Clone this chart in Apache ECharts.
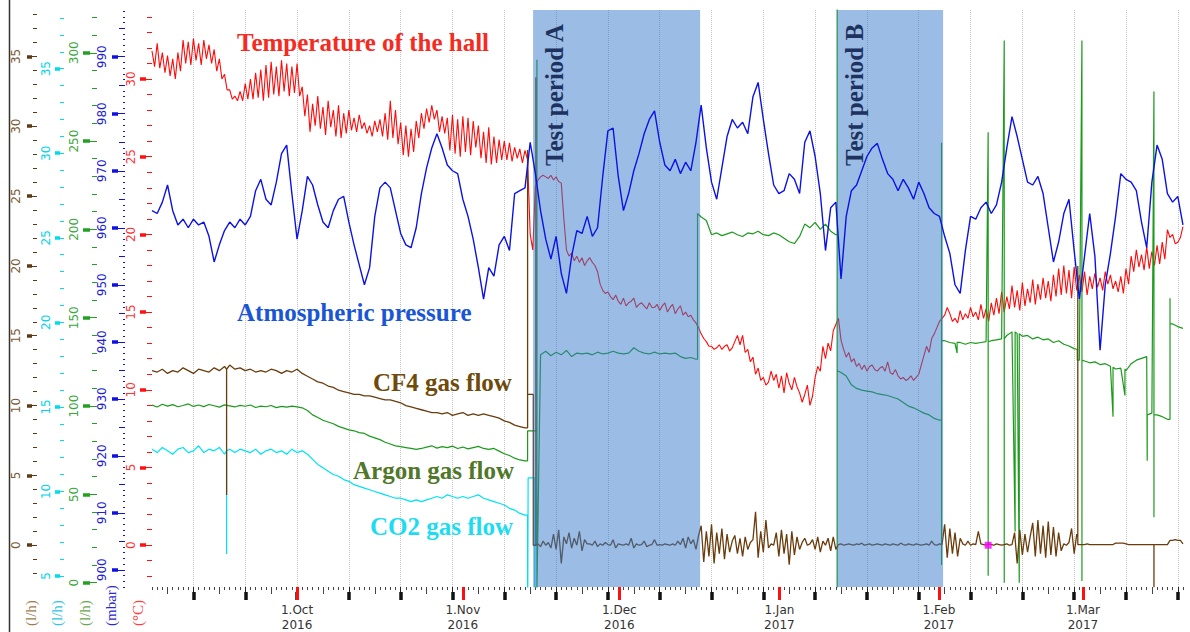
<!DOCTYPE html>
<html>
<head>
<meta charset="utf-8">
<title>Hall conditions and gas flows</title>
<script src="https://cdn.jsdelivr.net/npm/echarts@6/dist/echarts.min.js"></script>
<style>
html, body { margin: 0; padding: 0; background: #fff; }
#chart { width: 1190px; height: 632px; }
</style>
</head>
<body>
<div id="chart"></div>
<script>
// x values are days counted from 1 Oct 2016
var dayMin = -28, dayMax = 171.2;
var monthTicks = [0, 32, 62.2, 93.1, 123.9, 151.7];
var monthLabels = ['1.Oct\n2016', '1.Nov\n2016', '1.Dec\n2016', '1.Jan\n2017', '1.Feb\n2017', '1.Mar\n2017'];
var testPeriods = [[45.56, 77.8], [104.25, 124.7]];
var testNames = ['Test period A', 'Test period B'];
var seriesTitles = ['Temperature of the hall', 'Atmospheric pressure', 'CF4 gas flow', 'Argon gas flow', 'CO2 gas flow'];
var unitNames = ['(l/h)', '(l/h)', '(l/h)', '(mbar)', '(°C)'];

// temperature of the hall (°C), every half day from day -28
var tempStart = -28, tempStep = 0.5;
var tempValues = [
  31.8, 30.8, 32.3, 30.7, 31.7, 30.4, 31.5, 30.2, 31.3, 30.0,
  31.7, 30.5, 32.5, 31.0, 32.4, 30.9, 32.6, 31.2, 32.3, 30.9,
  32.5, 31.3, 32.2, 31.0, 31.9, 30.5, 31.3, 30.0, 30.3, 29.3,
  29.3, 28.7, 28.9, 28.6, 29.2, 28.6, 29.7, 28.7, 30.0, 28.7,
  30.4, 28.8, 30.6, 28.6, 30.9, 28.8, 31.1, 29.0, 30.8, 28.9,
  31.2, 29.2, 31.0, 28.9, 30.8, 29.1, 31.0, 28.9, 29.5, 27.6,
  29.0, 26.6, 28.4, 27.0, 28.9, 26.8, 28.2, 26.4, 28.6, 26.9,
  28.0, 26.3, 28.3, 26.2, 27.8, 26.5, 28.0, 26.7, 27.5, 26.6,
  27.7, 26.8, 27.2, 26.5, 27.0, 26.3, 27.3, 26.6, 27.4, 26.3,
  27.8, 26.1, 28.6, 26.2, 28.0, 25.8, 27.2, 25.1, 27.0, 25.0,
  26.8, 25.3, 27.3, 26.2, 27.8, 26.8, 28.1, 27.2, 28.3, 27.4,
  28.0, 26.6, 27.6, 26.5, 27.5, 25.4, 27.7, 25.2, 27.4, 25.0,
  27.6, 25.3, 27.5, 25.1, 27.3, 25.6, 27.0, 24.9, 26.6, 24.6,
  26.9, 24.5, 26.3, 24.6, 26.1, 24.8, 26.0, 24.8, 25.9, 24.7,
  25.6, 24.9, 25.5, 24.6, 25.4, 24.8, 20.0, 19.0, 23.1, 23.5,
  23.7, 23.8, 23.7, 23.6, 23.8, 23.5, 23.7, 23.4, 23.3, 21.0,
  19.0, 18.6, 18.8, 18.3, 18.6, 18.2, 18.5, 18.0, 18.3, 18.5,
  18.2, 18.0, 17.6, 16.8, 16.4, 16.2, 16.3, 16.0, 15.8, 16.1,
  15.7, 15.5, 15.9, 15.4, 15.6, 15.7, 15.9, 15.3, 15.5, 15.6,
  15.4, 15.2, 15.6, 15.3, 15.3, 15.5, 15.1, 15.4, 15.6, 15.0,
  15.3, 15.5, 14.9, 15.2, 15.4, 14.8, 15.0, 14.7, 14.8, 14.5,
  14.3, 14.0, 13.6, 13.3, 13.1, 12.8, 12.8, 12.6, 12.7, 12.9,
  12.6, 12.8, 12.9, 12.5, 12.7, 13.1, 13.5, 12.9, 13.5, 12.4,
  12.6, 11.8, 12.1, 11.0, 11.4, 10.6, 10.8, 10.3, 10.5, 11.2,
  10.6, 11.0, 10.1, 10.9, 9.8, 11.1, 10.4, 10.0, 10.8, 10.2,
  9.8, 9.2, 9.7, 10.3, 9.0, 9.6, 10.8, 11.5, 11.2, 12.8,
  12.0, 13.0, 12.5, 13.8, 14.2, 14.6, 13.2, 12.6, 12.1, 12.4,
  11.8, 12.0, 11.5, 11.7, 11.3, 11.6, 11.2, 11.5, 11.6, 11.3,
  11.2, 11.4, 11.5, 11.2, 11.8, 11.1, 11.0, 11.3, 10.9, 10.7,
  10.8, 10.6, 10.7, 10.9, 10.6, 10.8, 11.0, 11.6, 12.2, 12.8,
  12.4, 13.3, 13.6, 14.0, 14.4, 14.6, 14.8, 15.3, 14.9, 14.4,
  14.6, 14.3, 15.1, 14.5, 14.9, 14.6, 15.3, 14.7, 15.0, 14.5,
  15.5, 14.6, 15.2, 14.4, 15.6, 14.8, 15.9, 14.9, 16.3, 15.0,
  16.0, 15.2, 16.7, 15.3, 16.4, 15.1, 16.9, 15.4, 16.5, 15.6,
  17.1, 15.5, 16.8, 15.8, 17.2, 15.9, 17.0, 15.7, 17.4, 16.0,
  17.8, 16.1, 18.0, 16.2, 17.7, 15.9, 17.9, 16.4, 17.4, 16.3,
  17.6, 16.1, 17.3, 16.5, 17.5, 16.6, 17.2, 16.4, 17.6, 16.8,
  17.4, 16.5, 17.0, 16.3, 17.3, 16.2, 17.8, 16.8, 18.6, 17.6,
  19.0, 17.9, 18.7, 17.7, 19.2, 17.8, 18.9, 18.0, 19.3, 18.1,
  19.5, 18.4, 20.3, 19.8, 20.0, 19.4, 19.5, 19.8,
  20.5
];

// atmospheric pressure (mbar), daily from day -28
var pressStart = -28, pressStep = 1;
var pressValues = [
  963.0, 962.5, 964.5, 967.5, 963.0, 960.5, 961.5, 960.0, 961.5, 960.5,
  961.0, 958.5, 954.0, 957.0, 959.5, 961.0, 960.0, 961.5, 960.5, 962.0,
  966.5, 968.5, 965.0, 964.0, 968.0, 973.0, 974.5, 966.0, 958.0, 963.0,
  969.0, 967.5, 964.0, 961.0, 960.0, 963.0, 965.0, 965.5, 961.0, 957.0,
  953.5, 950.0, 953.0, 962.0, 967.0, 968.0, 967.0, 963.0, 959.0, 957.0,
  956.5, 960.0, 966.0, 970.5, 974.0, 976.5, 974.0, 971.0, 970.0, 969.5,
  965.0, 962.0, 958.0, 953.0, 947.5, 953.0, 951.5, 957.0, 958.5, 956.0,
  966.0, 966.5, 967.0, 975.0, 969.5, 963.0, 958.0, 954.5, 958.5, 952.0,
  948.5, 955.0, 959.5, 959.0, 962.0, 958.5, 960.0, 969.0, 977.0, 977.5,
  969.0, 963.0, 966.0, 970.0, 973.0, 976.5, 979.0, 980.5, 975.0, 971.0,
  970.0, 972.0, 969.5, 971.5, 970.0, 975.0, 981.5, 974.0, 968.0, 965.0,
  970.5, 976.0, 979.0, 977.5, 978.5, 976.5, 983.0, 985.5, 979.0, 973.0,
  967.5, 966.0, 966.5, 969.5, 968.5, 966.0, 975.0, 977.0, 972.5, 966.0,
  956.0, 963.5, 964.5, 951.0, 962.0, 966.5, 967.5, 970.0, 972.5, 974.0,
  974.8, 972.0, 969.5, 968.5, 966.5, 968.5, 967.0, 965.0, 968.0, 966.0,
  963.5, 962.5, 962.0, 958.5, 955.5, 950.0, 948.5, 956.0, 962.0, 961.5,
  963.5, 964.5, 962.5, 964.0, 968.0, 974.0, 979.5, 976.0, 972.0, 968.0,
  967.5, 969.0, 966.0, 960.0, 954.0, 957.5, 962.5, 965.0, 956.0, 947.5,
  955.0, 962.5, 955.0, 938.5, 950.0, 955.5, 962.0, 969.5, 968.5, 968.0,
  966.5, 961.0, 956.5, 968.0, 974.5, 972.0, 966.0, 964.5, 965.5, 960.5
];

// argon flow (l/h): daily before test A and daily after it
var argonEarly = [
  100.5, 99.5, 101.0, 100.0, 100.8, 99.6, 100.3, 101.2, 99.8, 100.6,
  99.7, 100.9, 100.2, 99.4, 100.7, 100.1, 99.5, 100.4, 99.9, 100.6,
  99.2, 100.0, 99.6, 100.3, 99.1, 99.8, 99.4, 100.0, 99.5, 99.0,
  97.5, 95.0, 93.5, 92.0, 91.0, 90.0, 88.5, 87.5, 86.5, 86.0,
  85.0, 84.5, 83.0, 82.0, 81.0, 79.5, 78.5, 77.5, 77.0, 76.5,
  76.0, 75.5, 76.0, 76.8, 77.5, 76.2, 77.0, 76.5, 77.3, 76.0,
  76.8, 75.8, 76.5, 77.2, 76.0, 75.5, 76.0, 74.5, 73.0, 72.0,
  70.5, 69.5, 69.0
];
var argonLate = [
  129.0, 131.0, 128.5, 130.5, 129.0, 131.5, 128.0, 130.0, 129.5, 130.0,
  129.0, 130.5, 129.5, 130.0, 131.0, 130.0, 129.5, 130.0, 133.0, 131.0,
  130.0, 129.5, 130.5, 129.5, 130.0, 129.5, 130.0, 128.0, 127.0, 127.5,
  126.5, 207.0, 205.0, 197.0, 198.0, 196.5, 197.5, 198.5, 197.0, 196.0,
  198.0, 197.5, 199.0, 197.0, 196.5, 198.0, 197.0, 195.0, 193.0, 192.0,
  196.0, 203.0, 201.0, 204.0, 200.0, 203.0, 199.0, 197.0, 119.0, 117.0,
  112.0, 110.0, 109.0, 108.5, 108.0, 107.0, 106.5, 106.0, 105.0, 104.0,
  102.0, 100.0, 99.0, 97.5, 96.0, 95.0, 93.0, 92.0, 137.0, 136.0,
  135.5, 136.0, 135.0, 136.0, 135.5, 136.0, 136.5, 137.0, 137.5, 138.0,
  140.0, 142.0, 141.0, 139.5, 140.0, 138.0, 139.0, 137.5, 138.0, 136.0,
  137.0, 135.0, 134.0, 132.5, 126.0, 125.5, 124.5, 125.0, 123.5, 124.0,
  122.5, 121.0, 121.5, 120.0, 124.0, 126.0, 127.0, 128.0, 96.0, 95.0,
  94.0, 92.5, 146.5, 145.0, 144.0
];
// [day, values...] : vertical jumps and spikes of the argon flow
var argonEvents = [
  [44.5, 69, 86], [46.3, 86, 296, -5], [77.3, 126.5, 209],
  [104.25, 197, 400, -10, 120], [124.4, 92, 249, 10, 137], [127.4, 130, 136],
  [133.4, 255, 4, 136.5], [136.5, 307, 0, 138], [138.6, 29, 142], [139.4, 0, 141],
  [150.6, 132, 126], [151.5, 307, 1, 126], [157.5, 94, 122], [159.8, 106, 121],
  [164.1, 128, 69, 95], [165.4, 278, 37, 95], [168.5, 92.5, 161, 146.5]
];

// CO2 flow (l/h), daily until test A
var co2Early = [
  12.5, 12.3, 12.6, 12.4, 12.2, 12.5, 12.6, 12.3, 12.4, 12.7,
  12.3, 12.5, 12.4, 12.6, 12.2, 12.5, 12.3, 12.5, 12.4, 12.3,
  12.5, 12.2, 12.4, 12.5, 12.3, 12.4, 12.2, 12.5, 12.3, 12.4,
  12.2, 11.9, 11.6, 11.4, 11.2, 11.0, 10.9, 10.7, 10.6, 10.4,
  10.3, 10.2, 10.1, 10.0, 9.9, 9.8, 9.7, 9.6, 9.6, 9.5,
  9.4, 9.5, 9.4, 9.5, 9.6, 9.7, 9.6, 9.8, 9.7, 9.6,
  9.7, 9.6, 9.7, 9.8, 9.6, 9.5, 9.4, 9.3, 9.2, 9.0,
  8.9, 8.7, 8.6
];
var co2Events = [[-13.6, 12.4, 6.3, 12.4], [44.5, 8.6, 0], [44.6, 0, 10.8], [45.9, 10.8, 0]];

// CF4 flow (l/h): daily until test A, then every half day
var cf4Early = [
  12.5, 12.4, 12.6, 12.3, 12.5, 12.4, 12.7, 12.5, 12.3, 12.6,
  12.5, 12.4, 12.7, 12.5, 12.8, 12.9, 12.6, 12.7, 12.5, 12.6,
  12.4, 12.5, 12.4, 12.6, 12.5, 12.3, 12.5, 12.4, 12.6, 12.3,
  12.1, 11.9, 11.7, 11.6, 11.4, 11.3, 11.1, 11.0, 10.9, 10.8,
  10.8, 10.7, 10.7, 10.6, 10.5, 10.4, 10.4, 10.3, 10.2, 10.0,
  9.9, 9.8, 9.7, 9.6, 9.5, 9.5, 9.4, 9.5, 9.3, 9.4,
  9.5, 9.3, 9.4, 9.3, 9.4, 9.3, 9.2, 9.1, 8.9, 8.8,
  8.6, 8.5, 8.4
];
var cf4Late = [
  0.1, -0.1, 0.3, 0.0, 0.2, -0.2,
  0.8, -0.3, 1.1, -1.3, 0.6, 0.1, 0.9, -0.2, 0.5, 0.0, 1.0, -0.4, 0.4, 0.1,
  0.1, 0.0, 0.3, -0.1, 0.1, 0.0, 0.2, 0.05, 0.0, 0.4, -0.2, 0.1, 0.05, 0.0, 0.1, 0.0,
  0.5, -0.2, 0.1, 0.0, 0.05, 0.3, -0.1, 0.0, 0.05, 0.4, 0.0, 0.05,
  0.0, 0.1, 0.05, 0.0, 0.1, 0.0, 0.3, 0.05,
  0.5, -0.2, 0.6, 0.1, 0.4, -0.3, 0.7,
  1.4, -1.2, 1.0, -0.8, 1.5, -1.3, 0.9, -0.6, 1.2, -1.0, 0.8, -0.5, 0.3,
  0.7, -0.6, 0.5, -0.8, 0.6, -0.3, 0.2,
  0.4, 2.4, -0.9, 1.0, -0.5, 1.8, -0.2,
  0.1, 0.0,
  0.9, -0.8, 1.1, -0.6, 0.8, -1.4, 1.0, -0.7, 0.6, -0.3,
  0.2, 0.5, 0.0, 0.1,
  0.4, -0.3, 0.6, -0.5, 0.3, 0.0, 0.5, -0.4, 0.6, -0.3,
  0.05, 0.1, 0.0, 0.05, 0.1, 0.05, 0.0, 0.1, 0.05, 0.15, 0.0, 0.05, 0.1, 0.0,
  0.05, 0.1, 0.05, 0.0, 0.1, 0.05, 0.0, 0.1, 0.05, 0.0, 0.15, 0.05, 0.0, 0.1,
  0.05, 0.0, 0.1, 0.05, 0.0, 0.05, 0.1, 0.0, 0.3, 0.05, 0.0, 0.1, 0.05,
  1.5, -0.9, 1.2, -0.6, 0.9, -0.8, 0.5,
  0.1, 0.0, 0.3, 0.0, 0.1, 0.05,
  1.0, 0.1,
  0.05, 0.0, 0.1, 0.05, 0.0, 0.1, 0.05, 0.0, 0.05, 0.1, 0.0, 0.05,
  0.9, -1.3, 1.1, -0.7, 0.8, -0.5, 0.6,
  1.6, -0.8, 1.8, -0.6, 1.4, -0.9, 1.7, -0.7, 1.3, -0.8, 0.9, -0.4,
  0.1, 0.0, 0.2,
  1.2, -0.6, 0.8,
  0.05, 0.05, 0.05, 0.1, 0.05, 0.05, 0.05, 0.05, 0.05, 0.05, 0.05, 0.05, 0.05, 0.05,
  0.15, 0.15, 0.15, 0.15, 0.1, 0.05, 0.05, 0.05, 0.05, 0.05, 0.05, 0.05, 0.05, 0.05,
  0.05, 0.05, 0.05, 0.05, 0.05, 0.05, 0.05, 0.35, 0.35, 0.4, 0.35, 0.35, 0.1
];
var cf4Events = [
  [-13.6, 12.6, 3.6, 12.6], [44.5, 8.4, 28.3, 10.8], [45.6, 10.8, 0], [46.1, 0, 33.5, 0],
  [150.7, 0.6, 20, 0.05], [165.4, 0.05, -3, 0.05]
];
var markerPoint = [[133.4, 0]];

// builds [day, value] pairs from evenly spaced parts plus the listed jumps
function seq(start, step, values) {
  var out = [];
  for (var i = 0; i < values.length; i++) {
    out.push([Math.round((start + i * step) * 100) / 100, values[i]]);
  }
  return out;
}
function buildData(parts, events) {
  var data = [];
  parts.forEach(function (p) { data = data.concat(seq(p[0], p[1], p[2])); });
  (events || []).forEach(function (ev) {
    for (var k = 1; k < ev.length; k++) data.push([ev[0], ev[k]]);
  });
  data.sort(function (a, b) { return a[0] - b[0]; });
  return data;
}
function multiples(min, max, step) {
  var out = [];
  for (var v = Math.ceil(min / step - 1e-9) * step; v <= max + 1e-9; v += step) {
    out.push(Math.round(v * 1000) / 1000);
  }
  return out;
}

var gridLeft = 152;
// left axes: brown CF4, cyan CO2, green argon, blue pressure, red temperature
var yDefs = [
  {x: 37, min: -2.99, max: 38.32, tiers: [[1, 4], [5, 10]], thick: [32, 5], tick: '#5c3a14', text: '#7a5a32', unit: '#a27c4f', unitX: 31, margin: 15},
  {x: 64, min: 4.35, max: 38.47, tiers: [[1, 4], [5, 9]], thick: [60, 5], tick: '#00dcee', text: '#00d4ec', unit: '#33c4e4', unitX: 57, margin: 12},
  {x: 97, min: -2.42, max: 324.2, tiers: [[10, 5], [50, 14]], thick: [90, 7], tick: '#22a022', text: '#3aa83a', unit: '#6aa84f', unitX: 85, margin: 17},
  {x: 125, min: 896.98, max: 998.2, tiers: [[1, 2], [5, 6], [10, 13]], thick: [118, 6], tick: '#1010e0', text: '#2020d8', unit: '#2a2ad0', unitX: 111, margin: 17},
  {x: 152, min: -2.69, max: 34.44, tiers: [[1, 5], [5, 12]], thick: [146, 6], tick: '#ff1010', text: '#ff3030', unit: '#ff3b3b', unitX: 138, margin: 15}
];

var yAxes = [];
yDefs.forEach(function (def) {
  def.axisIndex = yAxes.length;
  def.tiers.forEach(function (t, i) {
    var vals = multiples(def.min, def.max, t[0]);
    var top = i === def.tiers.length - 1;
    yAxes.push({
      type: 'value', gridIndex: 0, position: 'left', offset: gridLeft - def.x,
      min: def.min, max: def.max,
      axisLine: {show: false, onZero: false}, splitLine: {show: false},
      axisTick: {show: true, customValues: vals, length: t[1], lineStyle: {color: def.tick, width: 1}},
      axisLabel: top ? {
        show: true, customValues: vals, rotate: 90, margin: def.margin,
        color: def.text, fontSize: 12, fontFamily: 'DejaVu Sans'
      } : {show: false}
    });
  });
  // the heavy stub on each labelled tick
  var last = def.tiers[def.tiers.length - 1][0];
  yAxes.push({
    type: 'value', gridIndex: 0, position: 'left', offset: gridLeft - def.thick[0],
    min: def.min, max: def.max,
    axisLine: {show: false, onZero: false}, splitLine: {show: false}, axisLabel: {show: false},
    axisTick: {show: true, customValues: multiples(def.min, def.max, last), length: def.thick[1],
      lineStyle: {color: def.tick, width: 3.5}}
  });
});

function xTier(vals, len, width, color, extra) {
  var ax = {
    type: 'value', gridIndex: 0, position: 'bottom', min: dayMin, max: dayMax,
    axisLine: {show: false, onZero: false}, splitLine: {show: false}, axisLabel: {show: false},
    axisTick: {show: true, customValues: vals, length: len, lineStyle: {color: color, width: width}}
  };
  for (var k in extra) ax[k] = extra[k];
  return ax;
}
var xAxes = [
  xTier(multiples(dayMin, dayMax, 1), 3, 1, '#444'),
  xTier(multiples(dayMin, dayMax, 5), 7, 1, '#444'),
  xTier(multiples(dayMin, dayMax, 10), 9, 1, '#222', {
    splitLine: {show: true, lineStyle: {type: 'dotted', color: '#c4c4c4', width: 1}}
  }),
  xTier(multiples(dayMin, dayMax, 10), 8, 3.5, '#111', {offset: 5}),
  xTier(monthTicks, 13, 3, '#ff1010', {
    axisLabel: {
      show: true, customValues: monthTicks, margin: 15, color: '#333', fontSize: 12,
      fontFamily: 'DejaVu Sans', lineHeight: 15,
      formatter: function (v) {
        var best = 0;
        monthTicks.forEach(function (m, i) { if (Math.abs(m - v) < Math.abs(monthTicks[best] - v)) best = i; });
        return monthLabels[best];
      }
    }
  })
];

var tempData = buildData([[tempStart, tempStep, tempValues]]);
var pressData = buildData([[pressStart, pressStep, pressValues]]);
var argonData = buildData([[-28, 1, argonEarly], [47, 1, argonLate]], argonEvents);
var co2Data = buildData([[-28, 1, co2Early]], co2Events);
var cf4Data = buildData([[-28, 1, cf4Early], [46.5, 0.5, cf4Late]], cf4Events);

function lineSeries(name, data, axisIdx, color, width, z) {
  return {
    name: name, type: 'line', data: data, xAxisIndex: 0, yAxisIndex: axisIdx,
    showSymbol: false, symbol: 'none', clip: true, z: z, silent: true,
    lineStyle: {color: color, width: width}, itemStyle: {color: color}
  };
}

// text placed as on the original figure
var titleLayout = [
  {x: 237, y: 42, color: '#f62a1e'},
  {x: 237, y: 312, color: '#1955d7'},
  {x: 373, y: 382, color: '#6e4b0a'},
  {x: 353, y: 470, color: '#507828'},
  {x: 370, y: 526, color: '#1edcf0'}
];
var graphics = [
  {type: 'line', shape: {x1: 9.5, y1: 0, x2: 9.5, y2: 632}, style: {stroke: '#333', lineWidth: 1.5}, z: 20}
];
seriesTitles.forEach(function (t, i) {
  var l = titleLayout[i];
  graphics.push({type: 'text', x: l.x, y: l.y, z: 30, style: {
    text: t, fill: l.color, font: 'bold 25px "Liberation Serif"',
    textAlign: 'left', textVerticalAlign: 'middle', align: 'left', verticalAlign: 'middle'}});
});
var testLabelX = [554, 854];
testNames.forEach(function (t, i) {
  graphics.push({type: 'text', x: testLabelX[i], y: 166, rotation: Math.PI / 2, z: 30, style: {
    text: t, fill: '#1e325f', font: 'bold 25px "Liberation Serif"',
    textAlign: 'left', textVerticalAlign: 'middle', align: 'left', verticalAlign: 'middle'}});
});
unitNames.forEach(function (t, i) {
  graphics.push({type: 'text', x: yDefs[i].unitX, y: 626, rotation: Math.PI / 2, z: 30, style: {
    text: t, fill: yDefs[i].unit, font: '15px "Liberation Serif"',
    textAlign: 'left', textVerticalAlign: 'middle', align: 'left', verticalAlign: 'middle'}});
});

var myChart = echarts.init(document.getElementById('chart'), null, {renderer: 'svg'});
var option = {
  animation: false,
  backgroundColor: '#fff',
  grid: {left: gridLeft, right: 6, top: 10, bottom: 42},
  xAxis: xAxes,
  yAxis: yAxes,
  graphic: graphics,
  series: [
    lineSeries('Temperature of the hall', tempData, yDefs[4].axisIndex, '#ff0a0a', 1.1, 1),
    lineSeries('CO2 gas flow', co2Data, yDefs[1].axisIndex, '#00e2f4', 1.2, 1),
    lineSeries('Argon gas flow', argonData, yDefs[2].axisIndex, '#1c9a1c', 1.2, 1),
    lineSeries('CF4 gas flow', cf4Data, yDefs[0].axisIndex, '#6a3c0c', 1.3, 1),
    {
      name: 'Test periods', type: 'custom', xAxisIndex: 0, yAxisIndex: yDefs[4].axisIndex,
      data: testPeriods, z: 3, silent: true,
      renderItem: function (params, api) {
        var p0 = api.coord([api.value(0), 0]);
        var p1 = api.coord([api.value(1), 0]);
        var cs = params.coordSys;
        return {type: 'rect', shape: {x: p0[0], y: cs.y, width: p1[0] - p0[0], height: cs.height},
          style: {fill: 'rgba(55,121,201,0.5)'}};
      }
    },
    lineSeries('Atmospheric pressure', pressData, yDefs[3].axisIndex, '#0c12e4', 1.4, 4),
    {
      name: 'marker', type: 'scatter', xAxisIndex: 0, yAxisIndex: yDefs[0].axisIndex,
      data: markerPoint, symbol: 'rect', symbolSize: 7, z: 5, silent: true,
      itemStyle: {color: '#ff00ff'}
    }
  ]
};
myChart.setOption(option);
</script>
</body>
</html>
